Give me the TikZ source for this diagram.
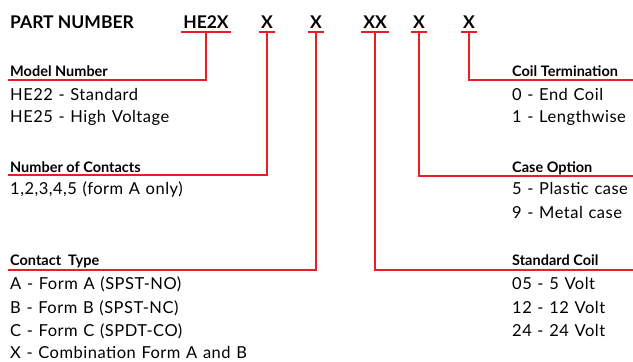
\documentclass[tikz,border=0pt]{standalone}
\usepackage{fontspec}
\setmainfont{Lato}
\newfontfamily\itemfont[LetterSpace=3, WordSpace=1.2]{Lato}
\usetikzlibrary{positioning}
\definecolor{leadred}{RGB}{237,28,36}
\tikzset{x=1pt, y=-1pt,
leader/.style={ % red lines under the codes
draw=leadred,
line width=2.3pt},
code/.style={ % letters of the part number
font=\fontsize{17.5}{20}\selectfont\bfseries,
anchor=base,
inner xsep=2pt,
inner ysep=4pt},
head/.style={ % bold headings
font=\fontsize{14.5}{17}\selectfont\bfseries,
anchor=base west,
inner sep=0pt},
item/.style={ % option lines
font=\itemfont\fontsize{16.5}{19}\selectfont,
anchor=base west,
inner sep=0pt}}

\begin{document}
\begin{tikzpicture}
\useasboundingbox (0,0) rectangle (633,362);
% part number row
\node[code, anchor=base west, inner sep=0pt] (title) at (10,28) {PART NUMBER};
\node[code] (hex) at (206,28) {HE2X};
\node[code] (xcont) at (267,28) {X};
\node[code] (xtype) at (316,28) {X};
\node[code] (xcoil) at (375,28) {XX};
\node[code] (xcase) at (419,28) {X};
\node[code] (xterm) at (469,28) {X};
% left headings
\node[head] (model) at (10,76) {Model Number};
\node[item] (he22) at (10,100) {HE22 - Standard};
\node[item] (he25) at (10,122) {HE25 - High Voltage};
\node[head] (contacts) at (10,172) {Number of Contacts};
\node[item] (forma) at (10,194) {1,2,3,4,5 (form A only)};
\node[head] (ctype) at (10,265) {Contact\ \ Type};
\node[item] (typea) at (10,289) {A - Form A (SPST-NO)};
\node[item] (typeb) at (10,313) {B - Form B (SPST-NC)};
\node[item] (typec) at (10,336) {C - Form C (SPDT-CO)};
\node[item] (typex) at (10,358.5) {X - Combination Form A and B};
% right headings
\node[head] (term) at (512,76) {Coil Termination};
\node[item] (endc) at (512,100) {0 - End Coil};
\node[item] (lenw) at (512,122) {1 - Lengthwise};
\node[head] (case) at (512,172) {Case Option};
\node[item] (plas) at (512,194) {5 - Plastic case};
\node[item] (metl) at (512,218) {9 - Metal case};
\node[head] (coil) at (512,265) {Standard Coil};
\node[item] (v05) at (512,289) {05 - 5 Volt};
\node[item] (v12) at (512,313) {12 - 12 Volt};
\node[item] (v24) at (512,336) {24 - 24 Volt};
% line ends
\coordinate (modelend) at (8,80);
\coordinate (contend) at (8,175);
\coordinate (typeend) at (8,270);
\coordinate (coilend) at (633,270);
\coordinate (caseend) at (633,176);
\coordinate (termend) at (633,80);
% underlines and leaders
\foreach \c in {hex,xcont,xtype,xcoil,xcase,xterm}
\draw[leader] (\c.south west) -- (\c.south east);
\draw[leader] (hex.south) |- (modelend);
\draw[leader] (xcont.south) |- (contend);
\draw[leader] (xtype.south) |- (typeend);
\draw[leader] (xcoil.south) |- (coilend);
\draw[leader] (xcase.south) |- (caseend);
\draw[leader] (xterm.south) |- (termend);
\end{tikzpicture}
\end{document}
